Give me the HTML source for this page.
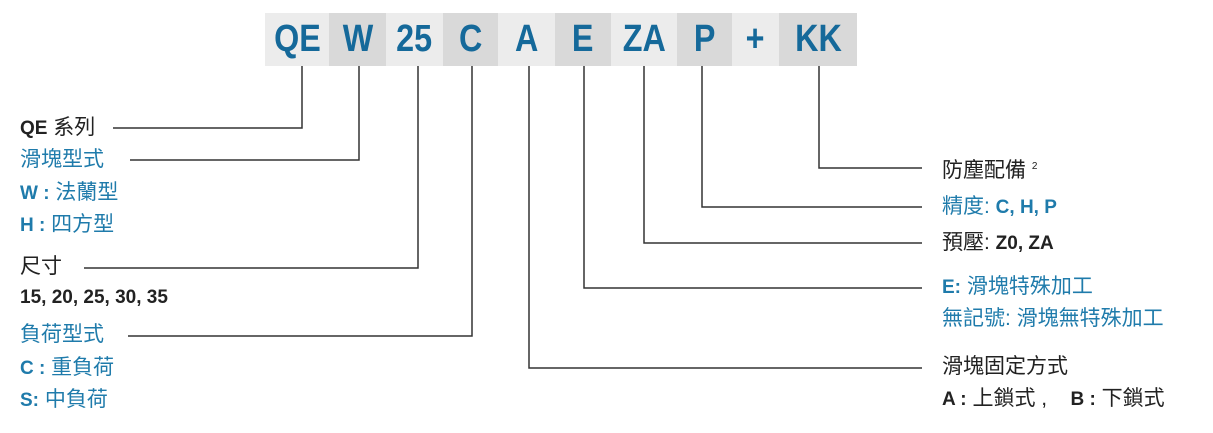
<!DOCTYPE html>
<html><head><meta charset="utf-8"><style>
body{margin:0;width:1213px;height:433px;background:#fff;position:relative;overflow:hidden;font-family:"Liberation Sans","Noto Sans CJK TC",sans-serif}
.b{position:absolute;top:13px;height:53px;display:flex;align-items:center;justify-content:center;color:#15699a;font-size:38px;font-family:"Liberation Sans",sans-serif;font-weight:bold}
.b span{display:inline-block;transform:scaleX(0.85)}
.l{background:#ececec}.d{background:#d9d9d9}
.t{position:absolute;font-size:21px;line-height:24px;white-space:nowrap;color:#222}
.c{color:#1f7bab}
.n{font-weight:bold;font-size:19px}
</style></head><body>
<div class="b l" style="left:265px;width:64px"><span>QE</span></div>
<div class="b d" style="left:329px;width:57px"><span>W</span></div>
<div class="b l" style="left:386px;width:57px"><span>25</span></div>
<div class="b d" style="left:443px;width:55px"><span>C</span></div>
<div class="b l" style="left:498px;width:57px"><span>A</span></div>
<div class="b d" style="left:555px;width:56px"><span>E</span></div>
<div class="b l" style="left:611px;width:66px"><span>ZA</span></div>
<div class="b d" style="left:677px;width:55px"><span>P</span></div>
<div class="b l" style="left:732px;width:47px"><span>+</span></div>
<div class="b d" style="left:779px;width:78px"><span>KK</span></div>
<svg width="1213" height="433" style="position:absolute;left:0;top:0" fill="none" stroke="#333" stroke-width="1.5">
<polyline points="302,66 302,128 113,128"/>
<polyline points="359,66 359,160 130,160"/>
<polyline points="418,66 418,268 84,268"/>
<polyline points="472,66 472,336 128,336"/>
<polyline points="529,66 529,368 922,368"/>
<polyline points="584,66 584,288 922,288"/>
<polyline points="644,66 644,243 922,243"/>
<polyline points="702,66 702,207 922,207"/>
<polyline points="819,66 819,168 922,168"/>
</svg>
<div class="t" style="left:20px;top:116px"><span class="n">QE</span> 系列</div>
<div class="t c" style="left:20px;top:148px">滑塊型式</div>
<div class="t c" style="left:20px;top:181px"><span class="n">W :</span> 法蘭型</div>
<div class="t c" style="left:20px;top:213px"><span class="n">H :</span> 四方型</div>
<div class="t" style="left:20px;top:255px">尺寸</div>
<div class="t n" style="left:20px;top:286px">15, 20, 25, 30, 35</div>
<div class="t c" style="left:20px;top:323px">負荷型式</div>
<div class="t c" style="left:20px;top:356px"><span class="n">C :</span> 重負荷</div>
<div class="t c" style="left:20px;top:388px"><span class="n">S:</span> 中負荷</div>
<div class="t" style="left:942px;top:155px">防塵配備 <sup style="font-size:10px">2</sup></div>
<div class="t c" style="left:942px;top:195px">精度: <span class="n">C, H, P</span></div>
<div class="t" style="left:942px;top:231px">預壓: <span class="n">Z0, ZA</span></div>
<div class="t c" style="left:942px;top:275px"><span class="n">E:</span> 滑塊特殊加工</div>
<div class="t c" style="left:942px;top:307px">無記號: 滑塊無特殊加工</div>
<div class="t" style="left:942px;top:355px">滑塊固定方式</div>
<div class="t" style="left:942px;top:387px"><span class="n">A :</span> 上鎖式 ,&nbsp;&nbsp;&nbsp;&nbsp;<span class="n">B :</span> 下鎖式</div>
</body></html>
